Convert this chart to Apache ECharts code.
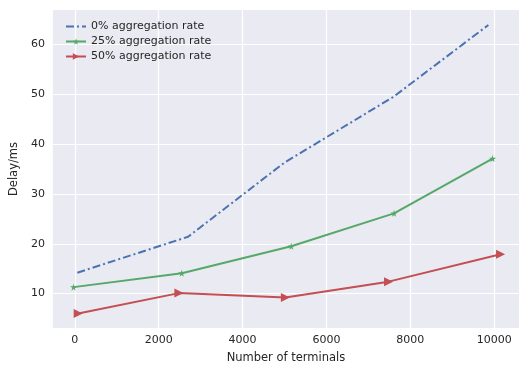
<!DOCTYPE html>
<html><head><meta charset="utf-8">
<script src="https://cdn.jsdelivr.net/npm/echarts@6/dist/echarts.min.js"></script>
<style>html,body{margin:0;padding:0;background:#fff}#c{width:519px;height:369px}</style>
</head><body><div id="c"></div>
<script>
const seriesNames = ['0% aggregation rate', '25% aggregation rate', '50% aggregation rate'];
const blueX = [60, 2700, 5000, 7600, 9860];
const blueY = [14.2, 21.4, 36.3, 49.5, 63.9];
const greenX = [-30, 2550, 5160, 7610, 9960];
const greenY = [11.3, 14.1, 19.5, 26.1, 37.1];
const redX = [80, 2480, 5020, 7480, 10150];
const redY = [6.0, 10.1, 9.2, 12.4, 17.9];
const xTicks = [0, 2000, 4000, 6000, 8000, 10000];
const yTicks = [10, 20, 30, 40, 50, 60];

const pairs = (xs, ys) => xs.map((x, i) => [x, ys[i]]);
const STAR = 'path://M50,0 L61,35 L98,35 L68,57 L79,91 L50,70 L21,91 L32,57 L2,35 L39,35 Z';
const FONT = 'DejaVu Sans';
const TXT = '#262626';

const chart = echarts.init(document.getElementById('c'), null, {renderer: 'canvas'});
chart.setOption({
  animation: false,
  backgroundColor: '#ffffff',
  textStyle: {fontFamily: FONT, color: TXT},
  grid: {left: 52, right: 0, top: 10, bottom: 35, show: true, backgroundColor: '#EAEAF2', borderWidth: 0},
  legend: {
    left: 60, top: 16, orient: 'vertical', itemWidth: 20, itemHeight: 8, itemGap: 4,
    textStyle: {fontFamily: FONT, fontSize: 11, color: TXT},
    data: [
      {name: seriesNames[0], itemStyle: {opacity: 0}},
      {name: seriesNames[1]},
      {name: seriesNames[2]}
    ]
  },
  xAxis: {
    type: 'value', min: -523, max: 10590,
    name: 'Number of terminals', nameLocation: 'middle', nameGap: 24,
    nameTextStyle: {fontFamily: FONT, fontSize: 11.5, color: TXT},
    axisLine: {show: false},
    axisTick: {show: false, customValues: xTicks},
    axisLabel: {customValues: xTicks, fontFamily: FONT, fontSize: 11, color: TXT, margin: 7,
      formatter: v => String(v)},
    splitLine: {show: true, lineStyle: {color: '#ffffff', width: 1.2}}
  },
  yAxis: {
    type: 'value', min: 3.1, max: 66.9,
    name: 'Delay/ms', nameLocation: 'middle', nameGap: 21,
    nameTextStyle: {fontFamily: FONT, fontSize: 11.5, color: TXT},
    axisLine: {show: false},
    axisTick: {show: false, customValues: yTicks},
    axisLabel: {customValues: yTicks, fontFamily: FONT, fontSize: 11, color: TXT, margin: 8,
      formatter: v => String(v)},
    splitLine: {show: true, lineStyle: {color: '#ffffff', width: 1.2}}
  },
  series: [
    {
      name: seriesNames[0], type: 'line', data: pairs(blueX, blueY),
      showSymbol: false, symbol: 'none', color: '#4C72B0',
      lineStyle: {width: 2, type: [8, 3, 2, 3]}
    },
    {
      name: seriesNames[1], type: 'line', data: pairs(greenX, greenY),
      symbol: STAR, symbolSize: 7, color: '#55A868',
      lineStyle: {width: 2}
    },
    {
      name: seriesNames[2], type: 'line', data: pairs(redX, redY),
      symbol: 'triangle', symbolRotate: -90, symbolSize: 9, color: '#C44E52',
      lineStyle: {width: 2}
    }
  ]
});
</script></body></html>
